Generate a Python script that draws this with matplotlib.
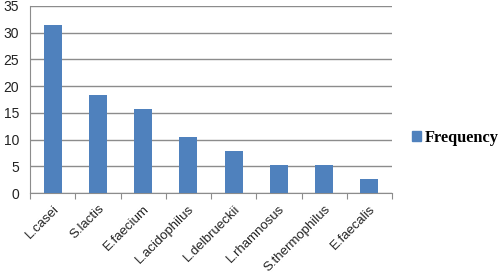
import matplotlib
matplotlib.use("Agg")
import matplotlib.pyplot as plt
import numpy as np
from matplotlib.patches import Patch

species = ["L.casei", "S.lactis", "E.faecium", "L.acidophilus", "L.delbrueckii",
           "L.rhamnosus", "S.thermophilus", "E.faecalis"]
frequency = [31.4, 18.4, 15.7, 10.5, 7.9, 5.2, 5.2, 2.6]

BAR = "#4F81BD"
GRID = "#8C8C8C"

fig = plt.figure(figsize=(5.0, 2.76), dpi=100)
ax = fig.add_axes([0.06, 0.3007, 0.724, 0.6776])

x = np.arange(len(species))
ax.bar(x, frequency, width=0.4, color=BAR, zorder=3)

ax.set_xlim(-0.5, len(species) - 0.5)
ax.set_ylim(0, 35)
ax.set_yticks(np.arange(0, 36, 5))
ax.yaxis.grid(True, color=GRID, lw=1)
ax.set_axisbelow(True)

# category boundary ticks (Excel style), labels on minor ticks at centres
ax.set_xticks(np.arange(-0.5, len(species), 1.0))
ax.set_xticklabels([])
ax.set_xticks(x, minor=True)
ax.set_xticklabels(species, minor=True, rotation=45, ha="right",
                   rotation_mode="anchor", fontsize=9.5, color="#222222",
                   family="Liberation Sans")
ax.tick_params(axis="x", which="major", length=4, color=GRID, direction="out")
ax.tick_params(axis="x", which="minor", length=0, pad=7)
ax.tick_params(axis="y", length=0, labelsize=10, labelcolor="#222222", pad=8)
for t in ax.get_yticklabels():
    t.set_family("Liberation Sans")

for s in ["top", "right"]:
    ax.spines[s].set_visible(False)
ax.spines["left"].set_color(GRID)
ax.spines["bottom"].set_color(GRID)

fig.legend(handles=[Patch(color=BAR)], labels=["Frequency"],
           loc="center left", bbox_to_anchor=(0.824, 0.5), frameon=False,
           handlelength=0.55, handleheight=0.55, handletextpad=0.25,
           borderaxespad=0, borderpad=0,
           prop={"family": "Liberation Serif", "weight": "bold", "size": 11.8})

fig.savefig("out.png", dpi=100)
